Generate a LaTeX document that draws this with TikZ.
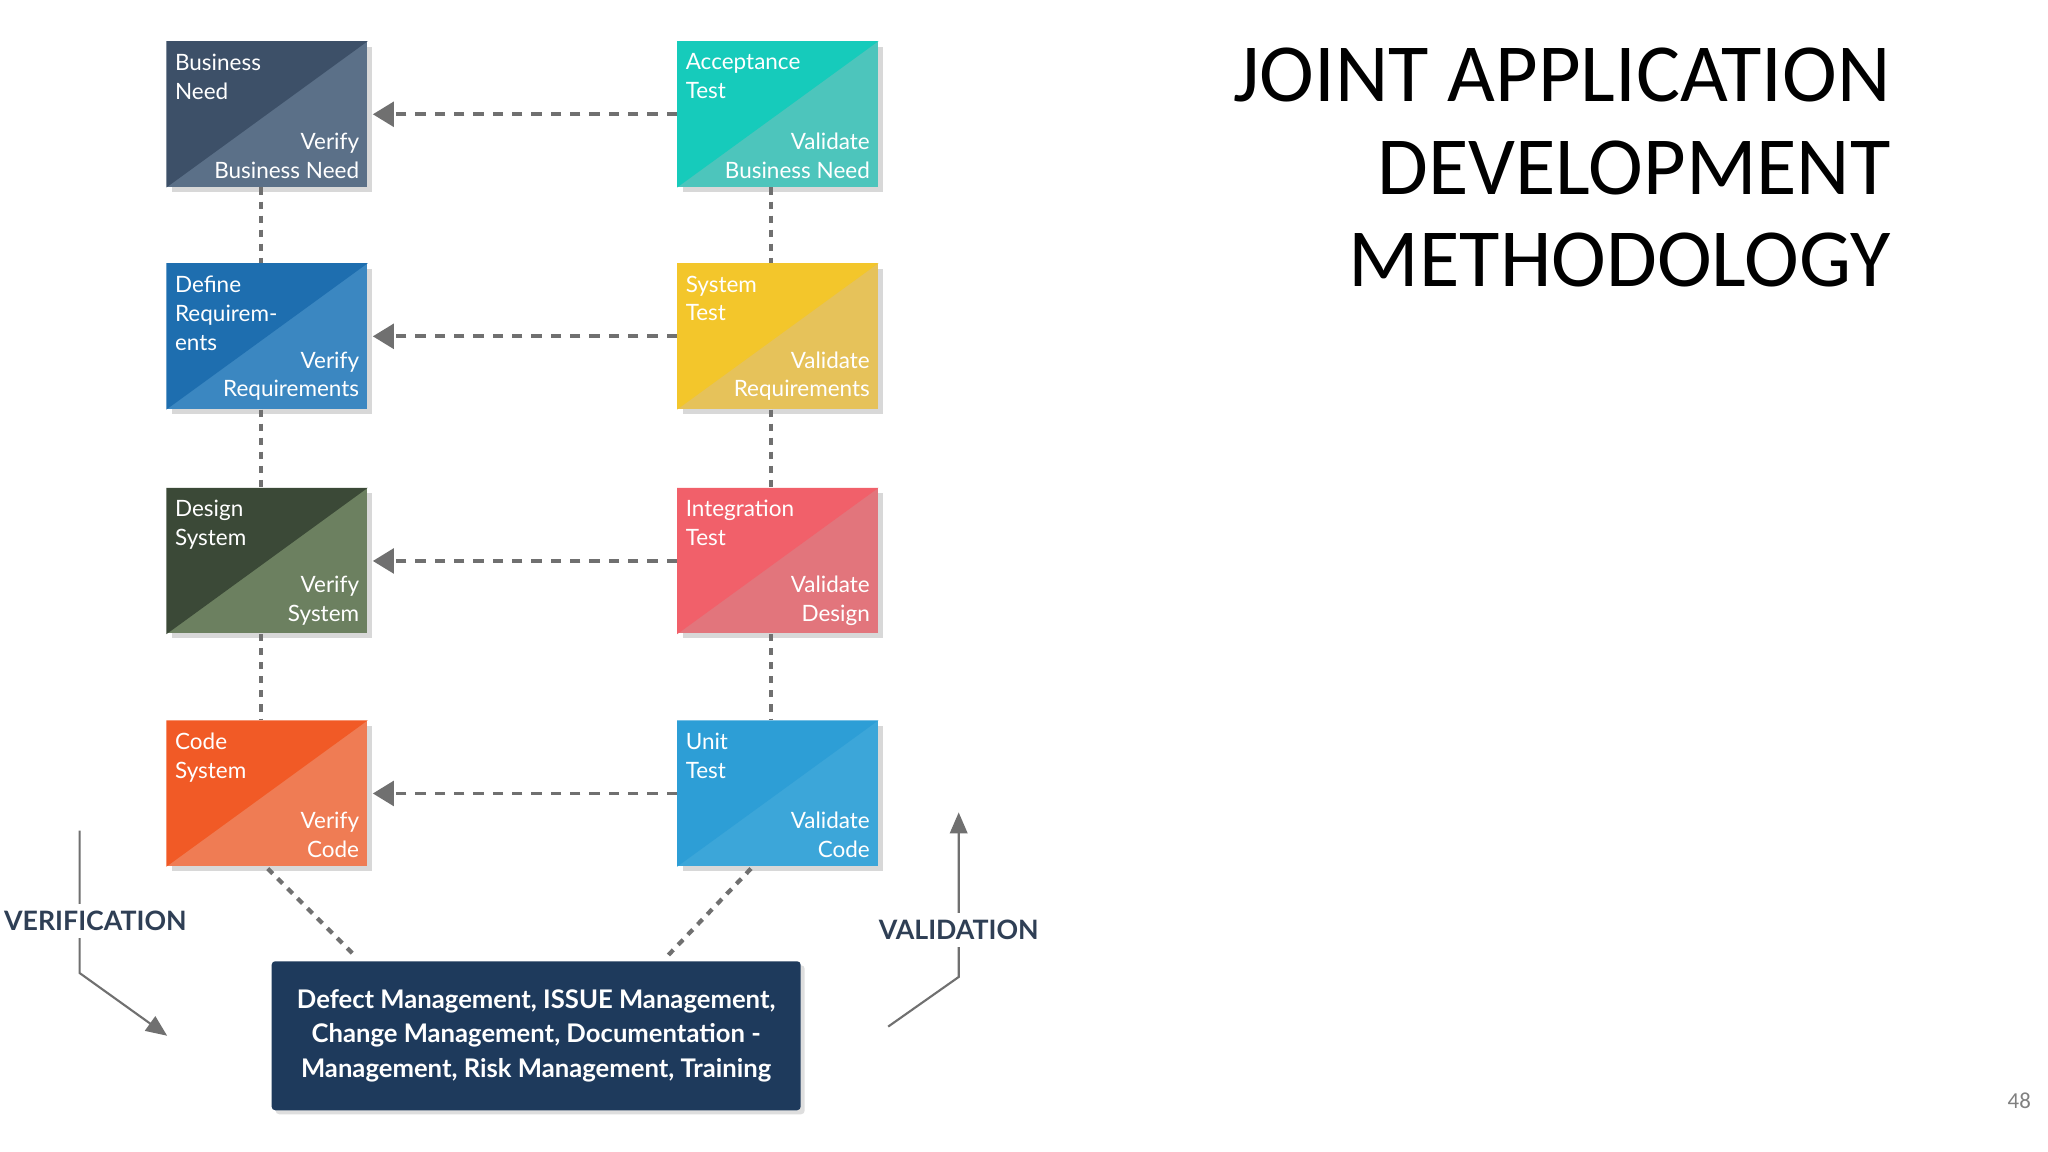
\documentclass[tikz,border=0pt]{standalone}
\usepackage{fontspec}
\setmainfont{Lato}
\newfontfamily\titlefont{Carlito}
\usetikzlibrary{shadows,arrows.meta}
\definecolor{bnA}{HTML}{3D5068}\definecolor{bnB}{HTML}{5B7088}
\definecolor{atA}{HTML}{16CBBB}\definecolor{atB}{HTML}{4DC5BC}
\definecolor{drA}{HTML}{1E6EAF}\definecolor{drB}{HTML}{3B87C1}
\definecolor{stA}{HTML}{F3C62B}\definecolor{stB}{HTML}{E6C25A}
\definecolor{dsA}{HTML}{3B4937}\definecolor{dsB}{HTML}{6C8060}
\definecolor{itA}{HTML}{F1606A}\definecolor{itB}{HTML}{E2757C}
\definecolor{csA}{HTML}{F15A26}\definecolor{csB}{HTML}{EF7C54}
\definecolor{utA}{HTML}{2D9ED6}\definecolor{utB}{HTML}{3CA6D9}
\definecolor{navy}{HTML}{1E3A5C}
\definecolor{linegray}{HTML}{707070}
\definecolor{labnavy}{HTML}{2F3F55}
\tikzset{
 jadbox/.style={minimum width=2cm,minimum height=1.45cm,inner sep=0pt,
   drop shadow={shadow xshift=0.05cm,shadow yshift=-0.05cm,fill=black!25,opacity=0.6}},
 boxtxt/.style={text=white,font=\fontsize{6.4}{8.2}\selectfont,inner sep=0pt},
 hdash/.style={draw=linegray,line width=1.1pt,dash pattern=on 3pt off 2.5pt,-{Triangle[length=6pt,width=7pt]}},
 vdot/.style={draw=linegray,line width=1.2pt,dash pattern=on 2pt off 2pt},
 thinarrow/.style={draw=linegray,line width=0.6pt,-{Triangle[length=6pt,width=5pt]}},
 sidelab/.style={font=\bfseries\fontsize{7.6}{9}\selectfont,text=labnavy,fill=white,inner sep=2pt}
}
\newcommand{\jadbox}[8]{%
 \node[jadbox,fill=#5] (#1) at (#2,#3) {};
 \fill[#4] (#1.north west) -- (#1.north east) -- (#1.south west) -- cycle;
 \node[boxtxt,anchor=north west,align=left] (#1t) at ([xshift=0.08cm,yshift=-0.12cm]#1.north west) {#6};
 \node[boxtxt,anchor=south east,align=right] (#1b) at ([xshift=-0.08cm,yshift=0.08cm]#1.south east) {#7\\#8};
}
\begin{document}
\begin{tikzpicture}[x=0.01306cm,y=-0.01306cm]
\useasboundingbox[fill=white] (0,0) rectangle (1568,882);
\jadbox{bn}{204.5}{87.5}{bnA}{bnB}{Business\\Need}{Verify}{Business Need}
\jadbox{at}{595.5}{87.5}{atA}{atB}{Acceptance\\Test}{Validate}{Business Need}
\jadbox{dr}{204.5}{257.5}{drA}{drB}{Define\\Requirem-\\ents}{Verify}{Requirements}
\jadbox{st}{595.5}{257.5}{stA}{stB}{System\\Test}{Validate}{Requirements}
\jadbox{ds}{204.5}{429.5}{dsA}{dsB}{Design\\System}{Verify}{System}
\jadbox{it}{595.5}{429.5}{itA}{itB}{Integration\\Test}{Validate}{Design}
\jadbox{cs}{204.5}{607.5}{csA}{csB}{Code\\System}{Verify}{Code}
\jadbox{ut}{595.5}{607.5}{utA}{utB}{Unit\\Test}{Validate}{Code}
\foreach \l/\r in {bn/at,dr/st,ds/it,cs/ut}{
  \draw[hdash] (\r.west) -- ([xshift=0.05cm]\l.east);
}
\foreach \a/\b in {bn/dr,dr/ds,ds/cs}{
  \draw[vdot] ([xshift=-0.06cm]\a.south) -- ([xshift=-0.06cm]\b.north);
}
\foreach \a/\b in {at/st,st/it,it/ut}{
  \draw[vdot] ([xshift=-0.07cm]\a.south) -- ([xshift=-0.07cm]\b.north);
}
\node[fill=navy,minimum width=5.29cm,minimum height=1.49cm,rounded corners=1pt,
  text=white,font=\bfseries\fontsize{7.3}{9.9}\selectfont,align=center,
  drop shadow={shadow xshift=0.04cm,shadow yshift=-0.04cm,fill=black!25,opacity=0.5}]
  (dm) at (410.5,793) {Defect Management, ISSUE Management,\\Change Management, Documentation -\\Management, Risk Management, Training};
\coordinate (dmL) at (273,733);
\coordinate (dmR) at (510,733);
\coordinate (csB) at (205,665);
\coordinate (utB) at (575,665);
\draw[vdot] (csB) -- (dmL);
\draw[vdot] (utB) -- (dmR);
\coordinate (v1) at (61,636); \coordinate (v2) at (61,745); \coordinate (v3) at (128,793);
\draw[thinarrow] (v1) -- (v2) -- (v3);
\coordinate (w1) at (680,786); \coordinate (w2) at (734,748); \coordinate (w3) at (734,622);
\draw[thinarrow] (w1) -- (w2) -- (w3);
\node[sidelab] (ver) at (73,705) {VERIFICATION};
\node[sidelab] (val) at (734,712) {VALIDATION};
\node[anchor=north east,align=right,font=\titlefont\fontsize{23.5}{26.4}\selectfont,inner sep=0pt] (title) at (1448,36) {JOINT APPLICATION\\DEVELOPMENT\\METHODOLOGY};
\node[text=gray,font=\titlefont\fontsize{6.5}{7}\selectfont] (pg) at (1546,843) {48};
\end{tikzpicture}
\end{document}
